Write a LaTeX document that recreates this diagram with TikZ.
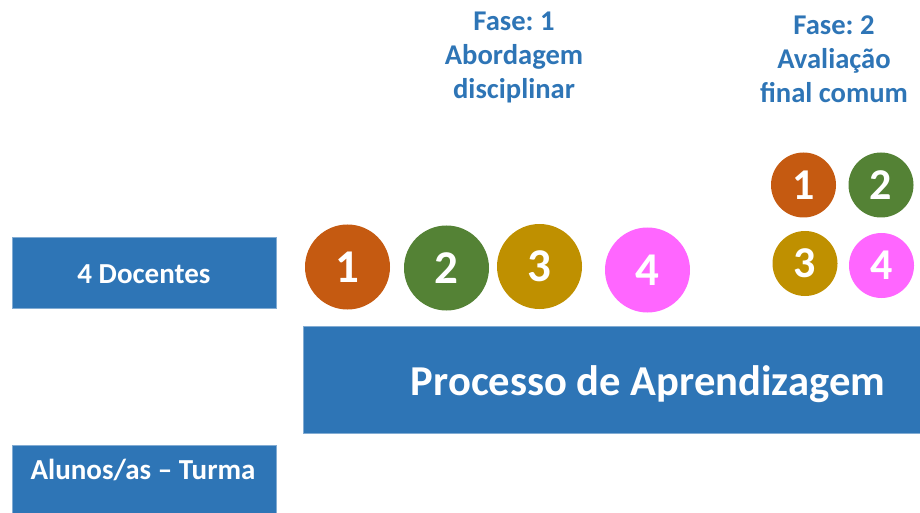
\documentclass[tikz,border=0pt]{standalone}
\usepackage{fontspec}
\setmainfont{Carlito}
\usetikzlibrary{calc}
\frenchspacing

\definecolor{azul}{HTML}{2E75B6}
\definecolor{laranja}{HTML}{C55A11}
\definecolor{verde}{HTML}{548235}
\definecolor{ouro}{HTML}{BF9000}
\definecolor{rosa}{HTML}{FF66FF}

\begin{document}
\begin{tikzpicture}[x=0.5pt,y=-0.5pt,
  bloco/.style={rectangle,fill=azul,draw=azul!60!white,line width=0.5pt,inner sep=0pt},
  btexto/.style={text=white,font=\bfseries\fontsize{14.5}{17}\selectfont,inner sep=0pt,anchor=base},
  fase/.style={text=azul,font=\bfseries\fontsize{14.3}{17}\selectfont,align=center,inner sep=0pt,anchor=north},
  bola/.style={circle,inner sep=0pt,minimum size=42.5pt,text=white,font=\bfseries\fontsize{23.5}{23.5}\selectfont},
  bolinha/.style={circle,inner sep=0pt,minimum size=32.5pt,text=white,font=\bfseries\fontsize{22}{22}\selectfont}]

\useasboundingbox (0,0) rectangle (920,513);

% caixas
\node[bloco,minimum width=132pt,minimum height=35pt] (docentes) at (144,273) {};
\node[btexto] (doctxt) at (144,283) {4 Docentes};
\node[bloco,minimum width=132pt,minimum height=34pt] (alunos) at (144,479) {};
\node[btexto] (alutxt) at (143,479.5) {Alunos/as -- Turma};
\node[bloco,minimum width=308.5pt,minimum height=53.5pt] (processo) at (611.5,379.5) {};
\node[btexto,font=\bfseries\fontsize{21.3}{25}\selectfont] (proctxt) at (648,395) {Processo de Aprendizagem};

% fases
\node[fase] (fase1) at (514,12) {Fase: 1\\Abordagem\\disciplinar};
\node[fase] (fase2) at (834,15) {Fase: 2\\Avaliação\\final comum};

% fase 1
\node[bola,fill=laranja] (a1) at (347.5,267) {1};
\node[bola,fill=verde] (a2) at (446.5,268) {2};
\node[bola,fill=ouro] (a3) at (539.5,266.5) {3};
\node[bola,fill=rosa] (a4) at (647.5,270) {4};

% fase 2
\node[bolinha,fill=laranja] (b1) at (803.5,185) {1};
\node[bolinha,fill=verde] (b2) at (881,185) {2};
\node[bolinha,fill=ouro] (b3) at (805,263.5) {3};
\node[bolinha,fill=rosa] (b4) at (881.5,265.5) {4};

\end{tikzpicture}
\end{document}
